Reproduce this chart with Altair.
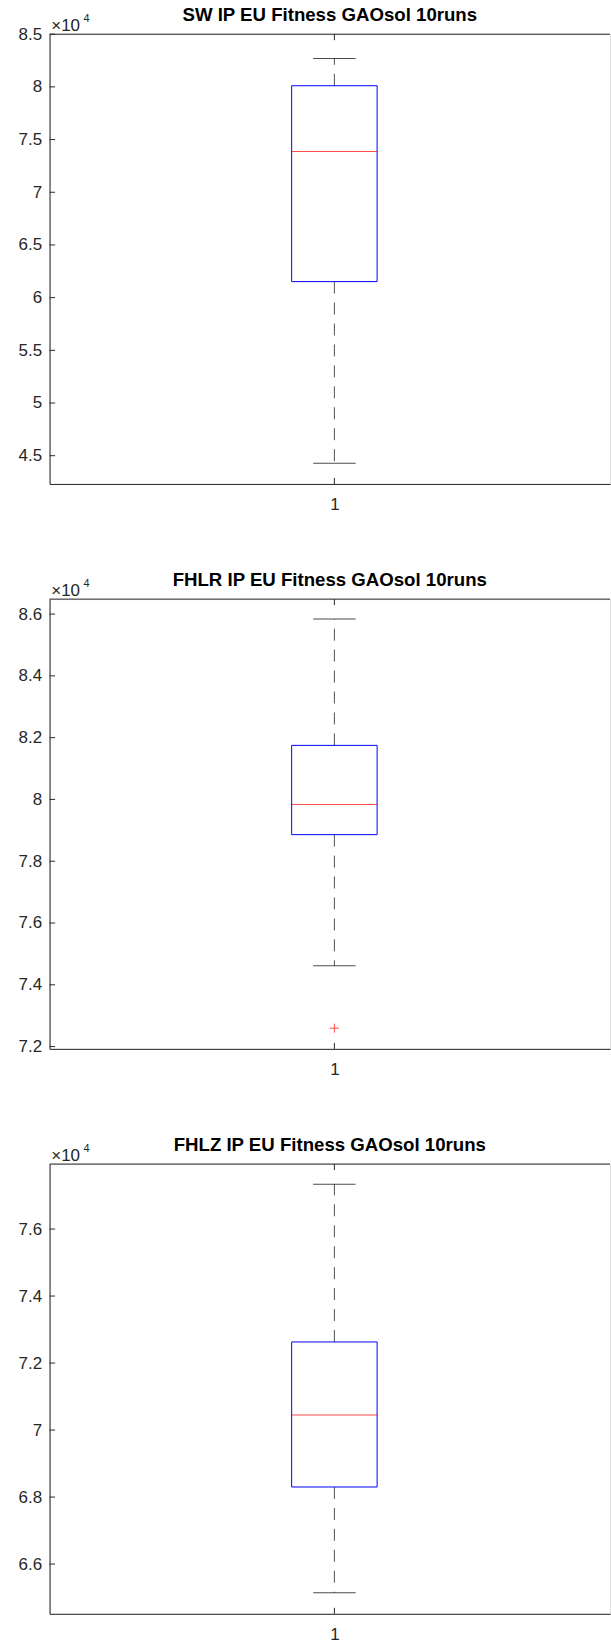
import altair as alt
import pandas as pd

# ---- data (raw fitness values) ----
titles = [
    "SW IP EU Fitness GAOsol 10runs",
    "FHLR IP EU Fitness GAOsol 10runs",
    "FHLZ IP EU Fitness GAOsol 10runs",
]
group = [1, 1, 1]
whisker_low = [44280, 74615, 65140]
q1 = [61520, 78860, 68300]
median = [73870, 79840, 70450]
q3 = [80110, 81750, 72630]
whisker_high = [82700, 85840, 77340]
outliers = [[], [72595], []]
y_domains = [[42320, 85000], [71926, 86484], [64515, 77940]]
y_ticks = [
    [45000, 50000, 55000, 60000, 65000, 70000, 75000, 80000, 85000],
    [72000, 74000, 76000, 78000, 80000, 82000, 84000, 86000],
    [66000, 68000, 70000, 72000, 74000, 76000],
]
x_ticks = [1]
exp_base = ["×10"]
exp_power = ["4"]

# ---- styling ----
FONT = "Liberation Sans"
AX = "#262626"
W = 562
H = 451
PX_PER_UNIT = 571.4
XMAX = 0.5 + W / PX_PER_UNIT
BOX_W = 85.7
CAP_W = 42.6


def panel(i):
    box = pd.DataFrame({
        "pos": [group[i]],
        "lo": [whisker_low[i]],
        "q1": [q1[i]],
        "med": [median[i]],
        "q3": [q3[i]],
        "hi": [whisker_high[i]],
    })
    caps = pd.DataFrame({"pos": [group[i], group[i]], "v": [whisker_low[i], whisker_high[i]]})
    outl = pd.DataFrame({"pos": [group[i]] * len(outliers[i]), "v": outliers[i]})
    ticks = pd.DataFrame({"v": y_ticks[i]})
    xt = pd.DataFrame({"pos": x_ticks})
    expo = pd.DataFrame({"base": exp_base, "power": exp_power})

    xscale = alt.Scale(domain=[0.5, XMAX], nice=False, zero=False)
    yscale = alt.Scale(domain=y_domains[i], nice=False, zero=False)
    xaxis = alt.Axis(values=x_ticks, format="d", title=None, tickSize=0, labelPadding=13,
                     grid=False, domainColor=AX, domainWidth=1, labelColor=AX,
                     labelFontSize=17, labelFont=FONT)
    yaxis = alt.Axis(values=y_ticks[i], tickSize=0, labelPadding=8, grid=False,
                     domainColor=AX, domainWidth=1, labelColor=AX, labelFontSize=17,
                     labelFont=FONT, labelExpr="toString(datum.value / 10000)",
                     title=None)

    X = alt.X("pos:Q", scale=xscale, axis=xaxis)

    upper = alt.Chart(box).mark_rule(color="#505050", strokeWidth=1, strokeDash=[12, 9]).encode(
        x=X, y=alt.Y("q3:Q", scale=yscale, axis=yaxis), y2="hi:Q")
    lower = alt.Chart(box).mark_rule(color="#505050", strokeWidth=1, strokeDash=[12, 9]).encode(
        x="pos:Q", y="q1:Q", y2="lo:Q")
    cap = alt.Chart(caps).mark_tick(orient="horizontal", size=CAP_W, thickness=1,
                                    color="#000000").encode(x="pos:Q", y="v:Q")
    rect = alt.Chart(box).mark_bar(size=BOX_W, fill="#ffffff", fillOpacity=0,
                                   stroke="#0000ff", strokeWidth=1).encode(
        x="pos:Q", y="q1:Q", y2="q3:Q")
    med = alt.Chart(box).mark_tick(orient="horizontal", size=BOX_W, thickness=1,
                                   color="#ff0000").encode(x="pos:Q", y="med:Q")
    out = alt.Chart(outl).mark_point(shape="M-1,0L1,0M0,-1L0,1", size=81, filled=False,
                                     color="#ff0000", strokeWidth=1).encode(x="pos:Q", y="v:Q")
    ytick = alt.Chart(ticks).mark_rule(color=AX, strokeWidth=1).encode(
        y="v:Q", x=alt.value(0), x2=alt.value(5.5))
    xtick_b = alt.Chart(xt).mark_rule(color=AX, strokeWidth=1).encode(
        x="pos:Q", y=alt.value(H - 6), y2=alt.value(H))
    xtick_t = alt.Chart(xt).mark_rule(color=AX, strokeWidth=1).encode(
        x="pos:Q", y=alt.value(0), y2=alt.value(6))
    top = alt.Chart(xt).mark_rule(color=AX, strokeWidth=1).encode(
        x=alt.value(0), x2=alt.value(W), y=alt.value(0))
    eb = alt.Chart(expo).mark_text(align="left", baseline="alphabetic", font=FONT,
                                   fontSize=17, color=AX).encode(
        text="base:N", x=alt.value(1.7), y=alt.value(-3.3))
    ep = alt.Chart(expo).mark_text(align="left", baseline="alphabetic", font=FONT,
                                   fontSize=11, color=AX).encode(
        text="power:N", x=alt.value(34), y=alt.value(-12))

    return alt.layer(upper, lower, cap, rect, med, out, ytick, xtick_b, xtick_t, top,
                     eb, ep).properties(
        width=W, height=H,
        title=alt.TitleParams(titles[i], font=FONT, fontSize=18.7, fontWeight="bold",
                              color="#000000", anchor="middle", baseline="alphabetic",
                              offset=-26.5),
    )


chart = alt.vconcat(panel(0), panel(1), panel(2), spacing=56.5).properties(
    padding={"left": 16.7, "top": 3, "right": 0, "bottom": 0}
).configure_view(stroke=None).configure(background="#ffffff")

chart.save("out.html", embed_options={"renderer": "svg", "actions": False})
